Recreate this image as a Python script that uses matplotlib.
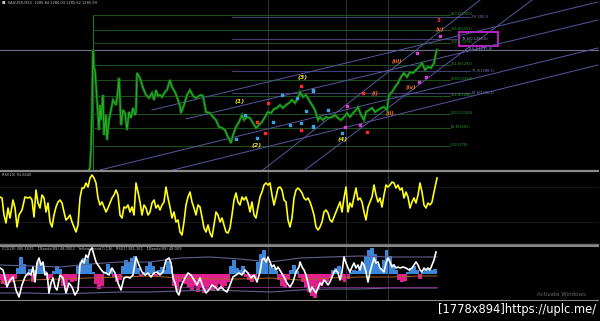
import numpy as np
import matplotlib
matplotlib.use("Agg")
import matplotlib.pyplot as plt
from matplotlib.patches import Rectangle

# ---- price panel (y grows downward) ----
price_x = [89, 90, 91, 92, 93, 94, 95, 97, 98, 99, 100, 101, 103, 104, 106, 107, 109, 111, 113, 116,
           118, 119, 120, 121, 123, 125, 127, 129, 131, 133, 135, 136, 137, 140, 143, 146, 149, 152, 154, 156,
           158, 160, 162, 165, 167, 170, 172, 175, 178, 180, 181, 184, 187, 190, 193, 196, 199, 201, 203, 206,
           210, 213, 216, 219, 222, 225, 228, 231, 233, 236, 239, 242, 244, 247, 250, 253, 256, 259, 262, 265,
           268, 271, 274, 277, 280, 283, 286, 289, 292, 295, 298, 300, 303, 306, 309, 312, 315, 318, 320, 323,
           326, 329, 332, 335, 338, 341, 344, 347, 350, 353, 356, 358, 361, 364, 366, 369, 372, 375, 378, 381,
           384, 387, 389, 392, 395, 398, 401, 404, 407, 410, 413, 416, 419, 422, 425, 428, 431, 434, 436, 437]
price = [170, 168, 150, 110, 50, 68, 70, 100, 115, 130, 105, 120, 95, 135, 115, 140, 120, 110, 100, 105,
         90, 78, 100, 125, 110, 113, 130, 112, 118, 108, 115, 112, 73, 78, 88, 95, 98, 93, 100, 90,
         96, 95, 97, 92, 90, 80, 87, 92, 100, 106, 113, 105, 95, 90, 96, 98, 96, 95, 96, 112,
         113, 117, 120, 127, 128, 130, 137, 143, 135, 127, 122, 115, 120, 117, 118, 123, 128, 125, 122, 117,
         112, 113, 109, 108, 105, 108, 105, 103, 100, 103, 98, 92, 97, 95, 100, 105, 110, 120, 117, 120,
         117, 118, 117, 115, 118, 120, 117, 113, 117, 113, 110, 107, 115, 120, 112, 110, 108, 112, 110, 108,
         107, 110, 95, 92, 87, 83, 77, 73, 77, 72, 73, 70, 67, 63, 70, 67, 68, 63, 53, 50]

fib_levels = [15, 30, 43, 65, 80, 96, 114, 128, 146]
fib_labels = ["423.6(1306)", "361.8(1301)", "300.0(1296)", "261.8(1292)", "200.0(1289)",
              "161.8(1286)", "100.0(1283)", "61.8(1281)", "0.0(1278)"]
lav_levels = [17, 71, 93]
lav_labels = ["FE 200.0", "76.4(1288.5)", "61.8(1286.4)"]
full_level = 50
full_label = "138.2(1295.8)"
box_level = 39
box_label = "78.6(0.1295.6)"

channel_start = [(152, 110), (186, 119), (100, 170), (173, 170), (263, 170), (305, 170)]
channel_end = [(598, 2), (598, 20), (598, 48), (598, 65), (480, 0), (532, 0)]

wave_major = ["(1)", "(2)", "(3)", "(4)"]
wave_major_x = [240, 257, 303, 343]
wave_major_y = [102, 145, 78, 140]
wave_minor = ["(i)", "(ii)", "(iii)", "(iv)", "(v)"]
wave_minor_x = [375, 390, 397, 411, 440]
wave_minor_y = [93, 114, 61, 87, 29]

blue_mx = [245, 236, 257, 273, 282, 290, 297, 306, 301, 313, 313, 313, 328, 313, 342]
blue_my = [115, 139, 138, 122, 95, 125, 98, 111, 123, 91, 126, 90, 110, 127, 133]
red_mx = [268, 257, 265, 301, 301, 363, 367]
red_my = [103, 122, 133, 86, 130, 93, 132]
mag_mx = [347, 345, 360, 417, 426, 419, 440]
mag_my = [106, 127, 125, 53, 77, 82, 36]

vlines_x = [268, 346, 388]

# ---- RSI panel ----
rsi_x = [0, 2, 4, 6, 8, 10, 13, 15, 17, 19, 22, 25, 28, 30, 32, 34] + list(range(36, 436, 2)) + [437]
rsi = [197, 198, 215, 223, 208, 218, 200, 208, 227, 215, 210, 197, 198, 197, 200, 217,
       190, 203, 208, 195, 198, 212, 203, 222, 227, 215,
       207, 202, 200, 203, 212, 220, 218, 215, 222, 227,
       232, 225, 198, 188, 188, 183, 187, 178, 175, 178,
       183, 198, 205, 202, 207, 212, 208, 203, 198, 195,
       190, 195, 215, 218, 207, 208, 205, 212, 207, 215,
       183, 192, 202, 215, 205, 208, 215, 212, 203, 200,
       208, 205, 210, 205, 202, 187, 198, 207, 218, 212,
       222, 220, 232, 235, 222, 205, 197, 192, 202, 208,
       215, 205, 207, 217, 228, 232, 225, 233, 237, 225,
       212, 215, 222, 218, 225, 232, 233, 228, 215, 200,
       193, 202, 205, 197, 200, 197, 203, 212, 202, 215,
       218, 207, 197, 192, 185, 183, 185, 183, 195, 205,
       197, 188, 187, 190, 200, 202, 220, 227, 218, 198,
       190, 188, 190, 193, 198, 200, 198, 202, 208, 215,
       227, 230, 227, 222, 212, 210, 213, 220, 222, 217,
       212, 207, 202, 212, 198, 187, 212, 203, 207, 197,
       188, 200, 198, 202, 212, 220, 207, 202, 197, 185,
       195, 202, 198, 207, 195, 185, 187, 185, 182, 183,
       188, 185, 190, 188, 198, 192, 197, 208, 202, 198,
       203, 195, 183, 192, 205, 208, 203, 205, 202, 192,
       178]

# ---- CCI panel ----
cci_x = [0, 3, 5, 7, 10, 13, 16, 19, 22, 25, 28, 31, 33, 35, 37, 39, 41, 43, 45, 47,
         49, 51, 53, 55, 57, 60, 63, 66, 69, 72, 75, 78, 80, 82, 84, 86, 88, 90, 92, 94,
         96, 98, 100, 103, 106, 109, 112, 115, 118, 121, 124, 127, 130, 133, 136, 139, 142, 145, 148, 151,
         154, 157, 160, 163, 166, 169, 171, 173, 175, 177, 179, 181, 183, 185, 188, 191, 194, 197, 200, 203,
         206, 209, 212, 215, 218, 221, 224, 227, 230, 233, 236, 239, 242, 245, 248, 251, 254, 257, 260, 262,
         264, 266, 268, 270, 272, 274, 276, 278, 281, 284, 287, 290, 293, 296, 299, 300, 302, 304, 306, 308,
         310, 312, 314, 316, 318, 320, 322, 324, 326, 328, 330, 332, 334, 336, 338, 340, 342, 344, 346, 348,
         350, 352, 354, 356, 358, 360, 362, 364, 366, 368, 370, 372, 374, 376, 378, 380, 382, 384, 386, 388,
         390, 392, 394, 396, 398, 400, 403, 406, 409, 412, 414, 416, 418, 420, 422, 424, 426, 428, 430, 432,
         434, 436]
cci = [268, 270, 278, 287, 280, 277, 290, 297, 285, 277, 273, 275, 267, 282, 263, 258, 265, 262, 275, 273,
       293, 283, 278, 287, 290, 275, 278, 293, 283, 287, 295, 290, 265, 260, 263, 255, 258, 250, 248, 255,
       262, 265, 268, 272, 273, 275, 268, 273, 283, 290, 278, 277, 278, 275, 257, 265, 272, 275, 273, 277,
       273, 272, 275, 272, 260, 258, 263, 278, 283, 292, 295, 287, 282, 278, 273, 275, 280, 285, 278, 287,
       293, 290, 285, 287, 290, 287, 290, 292, 285, 277, 275, 273, 275, 270, 273, 278, 275, 282, 272, 260,
       258, 262, 257, 262, 267, 265, 270, 267, 272, 277, 283, 287, 282, 272, 267, 262, 267, 270, 275, 283,
       292, 287, 290, 293, 288, 283, 285, 280, 282, 285, 282, 277, 272, 270, 273, 280, 272, 257, 263, 268,
       272, 267, 263, 268, 265, 270, 262, 265, 272, 282, 272, 265, 258, 263, 262, 268, 270, 272, 263, 258,
       262, 267, 265, 268, 267, 268, 267, 268, 270, 268, 265, 262, 265, 270, 272, 268, 270, 268, 270, 265,
       260, 252]

hist_x = list(range(0, 436, 3))
hist = [-6, -10, -11, -9, -8, -5, 6, 17, 10, -2,
        5, -8, 4, 12, 10, 3, -5, -4, 3, 8,
        5, -12, -16, -6, -8, -7, 8, 12, 16, 15,
        10, 2, -10, -15, -12, 2, 10, 6, -3, -8,
        -6, 8, 14, 12, 16, 18, 6, -2, 2, 8,
        12, 8, -2, 4, 7, 4, 13, 8, -12, -16,
        -8, -5, -10, -14, -16, -12, -18, -14, -19, -16,
        -12, -17, -14, -10, -15, -12, -8, 8, 14, 6,
        4, 8, -3, -6, -8, -4, 12, 20, 24, 14,
        10, 6, 3, -6, -12, -14, -5, 4, 9, 3,
        -4, -8, -14, -18, -22, -24, -16, -12, -6, -8,
        -4, 4, 6, 8, -6, -8, -5, 2, 4, 3,
        6, 10, 18, 24, 26, 20, 10, 6, 14, 24,
        18, 10, 4, -6, -8, -7, 2, 6, 8, 4,
        -5, 2, 5, 6, 4, 5]
hist_zero = 274

band_x = [0, 30, 60, 90, 120, 150, 180, 210, 240, 270, 300, 330, 360, 390, 420, 437]
band_up = [265, 266, 267, 264, 262, 262, 258, 257, 259, 262, 258, 257, 256, 257, 257, 257]
band_lo = [293, 293, 294, 293, 292, 292, 291, 290, 291, 292, 290, 289, 289, 288, 288, 288]
band_mid = [282, 280, 279, 278, 277, 276, 278, 279, 279, 278, 280, 278, 277, 277, 276, 276]

# ---- figure ----
fig = plt.figure(figsize=(6, 3.21), dpi=100, facecolor="black")
ax = fig.add_axes([0, 0, 1, 1])
ax.set_facecolor("black")
ax.set_xlim(0, 600)
ax.set_ylim(321, 0)
ax.axis("off")

tiny = dict(fontsize=2.6, va="center")

# vertical session lines
for vx in vlines_x:
    ax.plot([vx, vx], [0, 300], color="#333333", lw=0.7)

# fibonacci levels
ax.plot([93, 93], [16, 170], color="#1f7a1f", lw=0.8)
for lv, lb in zip(fib_levels, fib_labels):
    ax.plot([93, 450], [lv, lv], color="#1d4f1d", lw=0.8)
    ax.text(451, lv - 1, lb, color="#2f9a2f", **tiny)
for lv, lb in zip(lav_levels, lav_labels):
    ax.plot([232, 470], [lv, lv], color="#40406e", lw=0.8)
    ax.text(472, lv, lb, color="#7878b8", **tiny)
ax.plot([232, 458], [box_level, box_level], color="#40406e", lw=0.8)
ax.plot([0, 598], [full_level, full_level], color="#6e6e88", lw=0.8)
ax.text(468, full_level - 1.5, full_label, color="#9090c8", **tiny)

# trend channels
for (x0, y0), (x1, y1) in zip(channel_start, channel_end):
    ax.plot([x0, x1], [y0, y1], color="#5656a0", lw=0.7)

# price
ax.plot(price_x, price, color="#136013", lw=2.0, solid_joinstyle="miter")
ax.plot(price_x, price, color="#26b026", lw=0.8)

# wave marks
ax.scatter(blue_mx, blue_my, s=2.5, marker="s", color="#3fa0e0", zorder=5)
ax.scatter(red_mx, red_my, s=2.5, marker="s", color="#ff2828", zorder=5)
ax.scatter(mag_mx, mag_my, s=2.5, marker="s", color="#d040d0", zorder=5)
for t, x, y in zip(wave_major, wave_major_x, wave_major_y):
    ax.text(x, y, t, color="#f0e020", fontsize=4.5, fontweight="bold", fontstyle="italic",
            ha="center", va="center")
for t, x, y in zip(wave_minor, wave_minor_x, wave_minor_y):
    ax.text(x, y, t, color="#f06a20", fontsize=4, fontweight="bold", fontstyle="italic",
            ha="center", va="center")
ax.text(439, 21, "3", color="#ff3030", fontsize=4, fontweight="bold", ha="center", va="center")

ax.add_patch(Rectangle((459, 32), 39, 14, fill=False, edgecolor="#d020d0", lw=1.3))
ax.text(462, box_level, box_label, color="#a0a0e0", **tiny)

ax.text(2, 3, "\u25a0  XAUUSD,M15  1285.84 1286.03 1285.62 1285.99", color="#c0c0c0", **tiny)

# panel separators
ax.plot([0, 598], [171, 171], color="#8c8c8c", lw=1.6)
ax.plot([0, 598], [244, 244], color="#6c6c6c", lw=1.0)
ax.plot([0, 598], [245.5, 245.5], color="#8c8c8c", lw=1.4)
ax.plot([0, 598], [300, 300], color="#8c8c8c", lw=0.8)

# RSI
ax.plot([0, 598], [187, 187], color="#1c1c1c", lw=0.6)
ax.plot([0, 598], [222, 222], color="#1c1c1c", lw=0.6)
ax.plot(rsi_x, rsi, color="#ffff10", lw=1.2)
ax.text(2, 174.5, "RSI(10) 91.6640", color="#c0c0c0", **tiny)

# CCI / bands panel
hist = np.array(hist)
cols = np.where(hist >= 0, "#3b86d8", "#e0208c")
ax.bar(hist_x, -hist, bottom=hist_zero, width=3.1, color=cols, linewidth=0)
ax.plot(band_x, band_up, color="#606090", lw=0.8)
ax.plot(band_x, band_lo, color="#606090", lw=0.8)
ax.plot(band_x, band_mid, color="#b06030", lw=0.7)
ax.plot([0, 437], [287, 287], color="#8a2a8a", lw=0.6)
ax.plot(cci_x, cci, color="white", lw=1.2)
ax.text(2, 248.5, "CCI(20) 385.1625   \u2195Bands(89) 48.0052   Yellow_Trend 0.136   RSI(1) 385.162   \u2195Bands(89) 48.009",
        color="#c0c0c0", **tiny)

ax.text(561, 295, "Activate Windows", color="#6a6a6a", fontsize=4, ha="center", va="center")
ax.text(596, 310, "[1778x894]https://uplc.me/", color="white", fontsize=8.3,
        family="DejaVu Sans", ha="right", va="center")

fig.savefig("out.png", dpi=100, facecolor="black")
